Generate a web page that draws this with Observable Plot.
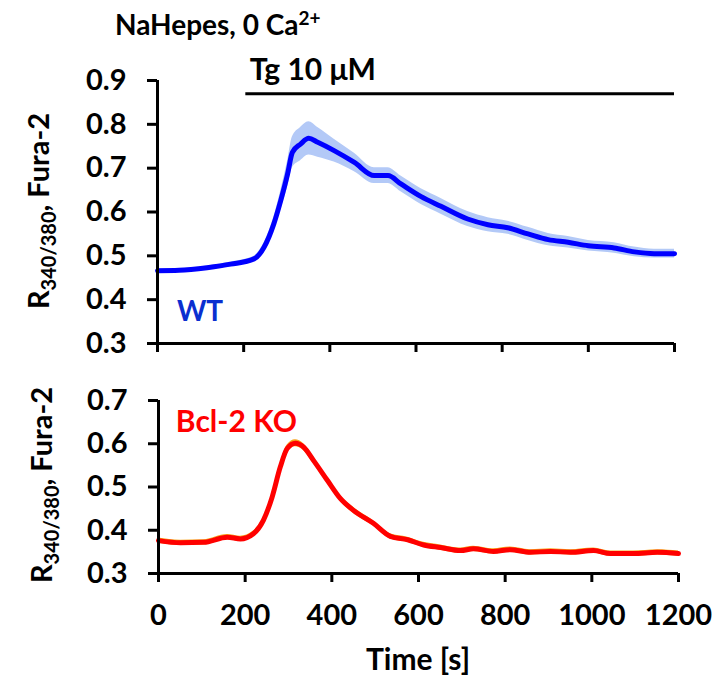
<!DOCTYPE html>
<html><head><meta charset="utf-8">
<script src="https://cdn.jsdelivr.net/npm/d3@7"></script>
<script src="https://cdn.jsdelivr.net/npm/@observablehq/plot@0.6"></script>
<style>
body{margin:0;background:#fff;}
#chart{width:717px;height:677px;position:relative;background:#fff;}
#chart svg{display:block;}
</style></head><body><div id="chart"></div>
<script>
// ---- data ----
const xTicks = [0, 200, 400, 600, 800, 1000, 1200];
const yTopTicks = [0.3, 0.4, 0.5, 0.6, 0.7, 0.8, 0.9];
const yBotTicks = [0.3, 0.4, 0.5, 0.6, 0.7];

const wtTime = [0, 50, 115, 170, 224, 247, 270, 286, 302, 313, 332, 351, 372, 410, 457, 503, 535, 565, 612, 658, 720, 767, 813, 860, 907, 953, 1000, 1060, 1107, 1153, 1200];
const wtMean = [0.466, 0.467, 0.473, 0.481, 0.493, 0.519, 0.573, 0.626, 0.687, 0.736, 0.755, 0.768, 0.759, 0.740, 0.713, 0.683, 0.683, 0.664, 0.635, 0.613, 0.584, 0.571, 0.564, 0.550, 0.537, 0.531, 0.523, 0.518, 0.509, 0.505, 0.505];
const wtErr  = [0.004, 0.004, 0.004, 0.005, 0.006, 0.010, 0.015, 0.022, 0.030, 0.035, 0.038, 0.038, 0.034, 0.026, 0.021, 0.018, 0.018, 0.018, 0.018, 0.018, 0.017, 0.016, 0.015, 0.015, 0.014, 0.013, 0.012, 0.012, 0.011, 0.010, 0.010];

const koTime = [0, 51, 104, 159, 189, 219, 242, 262, 281, 297, 316, 335, 358, 390, 420, 450, 496, 535, 575, 612, 651, 697, 727, 773, 812, 858, 905, 951, 1004, 1043, 1096, 1151, 1200];
const koMean = [0.376, 0.371, 0.372, 0.384, 0.380, 0.392, 0.423, 0.476, 0.546, 0.589, 0.601, 0.592, 0.561, 0.515, 0.473, 0.446, 0.416, 0.386, 0.378, 0.366, 0.360, 0.353, 0.357, 0.351, 0.355, 0.349, 0.351, 0.349, 0.353, 0.346, 0.346, 0.349, 0.346];
const koErr  = [0.006, 0.006, 0.006, 0.006, 0.006, 0.006, 0.007, 0.007, 0.008, 0.008, 0.008, 0.008, 0.008, 0.007, 0.007, 0.007, 0.006, 0.006, 0.006, 0.006, 0.006, 0.006, 0.006, 0.006, 0.006, 0.006, 0.006, 0.006, 0.006, 0.006, 0.006, 0.006, 0.006];

const tgStart = 205;
const tgLevel = 0.87;
const tgLabel = "Tg 10 μM";
const wtName = "WT";
const koName = "Bcl-2 KO";

const wt = wtTime.map((t, i) => ({t, v: wtMean[i], lo: wtMean[i] - wtErr[i], hi: wtMean[i] + wtErr[i]}));
const ko = koTime.map((t, i) => ({t, v: koMean[i], lo: koMean[i] - koErr[i], hi: koMean[i] + koErr[i]}));

const FONT = "Lato, 'Open Sans', sans-serif";
const baseStyle = {fontFamily: FONT, fontWeight: "bold", fontSize: "29px", color: "#000", background: "transparent", overflow: "visible"};

// ---- top panel ----
const topPlot = Plot.plot({
  width: 717, height: 360,
  marginLeft: 157, marginRight: 43, marginTop: 80, marginBottom: 17,
  x: {domain: [0, 1200]},
  y: {domain: [0.3, 0.9]},
  style: baseStyle,
  marks: [
    Plot.areaY(wt, {x: "t", y1: "lo", y2: "hi", fill: "#b3c9f7", curve: "monotone-x"}),
    Plot.line(wt, {x: "t", y: "v", stroke: "#0000ff", strokeWidth: 5, curve: "monotone-x"}),
    Plot.ruleY([0.3], {x1: 0, x2: 1200, stroke: "#000", strokeWidth: 3}),
    Plot.ruleX([0], {y1: 0.3, y2: 0.9, stroke: "#000", strokeWidth: 3}),
    Plot.axisY({ticks: yTopTicks, tickSize: 10, tickPadding: 21, strokeWidth: 3, tickFormat: d => d.toFixed(1), label: null, fontSize: 29}),
    Plot.axisX({ticks: xTicks, tickSize: 9, strokeWidth: 3, tickFormat: () => "", label: null}),
    Plot.ruleY([tgLevel], {x1: tgStart, x2: 1200, stroke: "#000", strokeWidth: 3}),
    Plot.text([tgLabel], {x: tgStart, y: tgLevel, text: d => d, textAnchor: "start", dx: 4, dy: -23, fontSize: 30, fill: "#000"}),
    Plot.text([wtName], {x: 45, y: 0.3, text: d => d, textAnchor: "start", dy: -31, fontSize: 28, fill: "#0a2fd0"})
  ]
});

// ---- bottom panel ----
const botPlot = Plot.plot({
  width: 717, height: 317,
  marginLeft: 158, marginRight: 39, marginTop: 40, marginBottom: 104,
  x: {domain: [0, 1200]},
  y: {domain: [0.3, 0.7]},
  style: baseStyle,
  marks: [
    Plot.areaY(ko, {x: "t", y1: "lo", y2: "hi", fill: "#f7a21b", curve: "monotone-x"}),
    Plot.line(ko, {x: "t", y: "v", stroke: "#ff0000", strokeWidth: 5, curve: "monotone-x"}),
    Plot.ruleY([0.3], {x1: 0, x2: 1200, stroke: "#000", strokeWidth: 3}),
    Plot.ruleX([0], {y1: 0.3, y2: 0.7, stroke: "#000", strokeWidth: 3}),
    Plot.axisY({ticks: yBotTicks, tickSize: 10, tickPadding: 21, strokeWidth: 3, tickFormat: d => d.toFixed(1), label: null, fontSize: 29}),
    Plot.axisX({ticks: xTicks, tickSize: 9, tickPadding: 22, strokeWidth: 3, tickFormat: d => String(d), label: null, fontSize: 29}),
    Plot.text([koName], {x: 40, y: 0.7, text: d => d, textAnchor: "start", dy: 22, fontSize: 30, fill: "#ff0000"})
  ]
});

const chart = document.getElementById("chart");
chart.appendChild(topPlot);
chart.appendChild(botPlot);

// ---- titles with sub/superscripts ----
const ts = d3.select(topPlot);
const title = ts.append("text")
  .attr("x", 115).attr("y", 35)
  .attr("text-anchor", "start")
  .attr("font-family", FONT).attr("font-weight", "bold").attr("font-size", 28).attr("fill", "#000");
title.append("tspan").text("NaHepes, 0 Ca");
title.append("tspan").attr("dy", -10).attr("font-size", 19).text("2+");

function yTitle(sel, x, y) {
  const t = sel.append("text")
    .attr("transform", `translate(${x},${y}) rotate(-90)`)
    .attr("text-anchor", "middle")
    .attr("font-family", FONT).attr("font-weight", "bold").attr("font-size", 29).attr("fill", "#000");
  t.append("tspan").text("R");
  t.append("tspan").attr("dy", 7).attr("font-size", 20).text("340/380");
  t.append("tspan").attr("dy", -7).text(", Fura-2");
}
yTitle(ts, 49, 211);
const bs = d3.select(botPlot);
yTitle(bs, 52, 125);

bs.append("text")
  .attr("x", 418).attr("y", 310)
  .attr("text-anchor", "middle")
  .attr("font-family", FONT).attr("font-weight", "bold").attr("font-size", 30).attr("fill", "#000")
  .text("Time [s]");
</script>
</body></html>
